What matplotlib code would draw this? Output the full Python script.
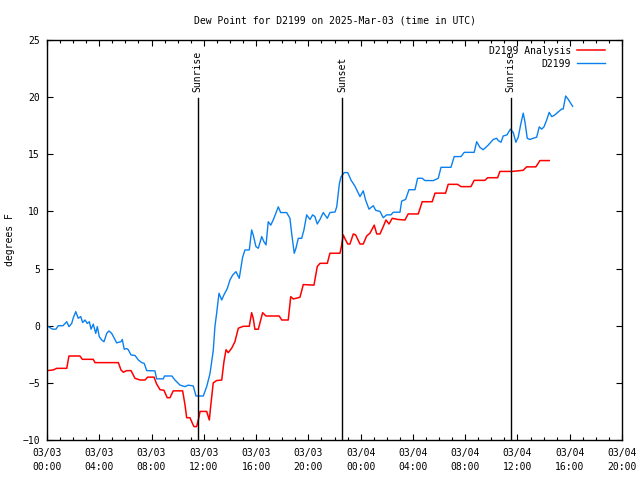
import matplotlib
matplotlib.use("Agg")
import matplotlib.pyplot as plt
import matplotlib.dates as mdates
import numpy as np
from datetime import datetime, timedelta

# ---- data (hours since 2025-03-03 00:00 UTC, dew point in F) ----
obs_hours = [0.00, 0.41, 0.69, 0.86, 1.22, 1.51, 1.68, 1.89, 2.01, 2.20, 2.39, 2.58, 2.73, 2.91,
             3.08, 3.24, 3.37, 3.54, 3.73, 3.85, 4.00, 4.19, 4.36, 4.57, 4.74, 4.95, 5.15, 5.33,
             5.66, 5.76, 5.91, 6.10, 6.22, 6.43, 6.73, 6.99, 7.25, 7.44, 7.63, 8.26, 8.39, 8.90,
             8.99, 9.56, 9.79, 10.18, 10.56, 10.81, 11.19, 11.40, 11.96, 12.22, 12.47, 12.72,
             12.85, 12.98, 13.16, 13.37, 13.54, 13.80, 14.00, 14.21, 14.46, 14.71, 14.90, 14.97,
             15.15, 15.48, 15.66, 15.78, 15.99, 16.17, 16.43, 16.60, 16.76, 16.93, 17.12, 17.31,
             17.70, 17.88, 18.34, 18.59, 18.72, 18.92, 19.05, 19.23, 19.49, 19.66, 19.87, 20.12,
             20.33, 20.50, 20.68, 20.89, 21.14, 21.45, 21.65, 22.04, 22.17, 22.29, 22.37, 22.49,
             22.75, 23.01, 23.26, 23.57, 23.95, 24.20, 24.38, 24.64, 24.97, 25.15, 25.48, 25.73,
             25.99, 26.32, 26.50, 27.01, 27.14, 27.44, 27.70, 28.16, 28.36, 28.71, 28.92, 29.56,
             29.94, 30.15, 30.91, 31.16, 31.68, 31.93, 32.69, 32.88, 33.13, 33.38, 33.76, 34.15,
             34.41, 34.53, 34.74, 34.91, 35.20, 35.46, 35.68, 35.88, 36.06, 36.24, 36.44, 36.57,
             36.75, 36.95, 37.47, 37.67, 37.85, 38.03, 38.23, 38.43, 38.62, 38.81, 39.12, 39.38,
             39.50, 39.69, 39.89, 40.22]
obs_values = [0.0, -0.3, -0.3, 0.0, 0.0, 0.35, -0.08, 0.2, 0.68, 1.23, 0.65, 0.8, 0.28, 0.5,
              0.2, 0.35, -0.3, 0.14, -0.67, -0.08, -0.96, -1.25, -1.4, -0.67, -0.46, -0.67, -1.1, -1.5,
              -1.4, -1.2, -2.06, -2.0, -2.1, -2.56, -2.6, -3.0, -3.23, -3.3, -3.93, -3.95, -4.65, -4.65,
              -4.4, -4.4, -4.75, -5.2, -5.33, -5.2, -5.27, -6.15, -6.15, -5.33, -4.2, -2.2,
              -0.08, 1.08, 2.84, 2.25, 2.7, 3.27, 4.0, 4.44, 4.73, 4.15, 5.46, 6.0,
              6.63, 6.63, 8.38, 7.94, 6.92, 6.78, 7.8, 7.35, 7.07, 9.1, 8.8, 9.25,
              10.4, 9.9, 9.9, 9.4, 8.1, 6.34, 6.78, 7.65, 7.65, 8.38, 9.7, 9.3,
              9.7, 9.55, 8.9, 9.3, 9.9, 9.4, 9.9, 9.95, 10.4, 11.6, 12.4, 13.0,
              13.4, 13.4, 12.75, 12.2, 11.3, 11.8, 11.0, 10.2, 10.5, 10.1, 10.0, 9.45,
              9.7, 9.7, 9.93, 9.93, 10.9, 11.05, 11.9, 11.9, 12.9, 12.9, 12.7, 12.7,
              12.9, 13.86, 13.86, 14.8, 14.8, 15.17, 15.17, 16.1, 15.6, 15.4, 15.8, 16.3,
              16.4, 16.2, 16.05, 16.6, 16.7, 17.2, 16.9, 16.05, 16.5, 17.56, 18.6, 17.85,
              16.4, 16.3, 16.5, 17.4, 17.2, 17.4, 17.98, 18.67, 18.3, 18.4, 18.7, 18.96,
              18.96, 20.1, 19.8, 19.2]

ana_hours = [0.00, 0.48, 0.74, 1.51, 1.68, 2.52, 2.70, 3.54, 3.67, 5.46, 5.66, 5.84, 6.10, 6.43,
             6.73, 7.12, 7.50, 7.70, 8.19, 8.39, 8.65, 8.95, 9.20, 9.41, 9.66, 10.38, 10.56, 10.69,
             10.94, 11.15, 11.25, 11.45, 11.58, 11.71, 12.22, 12.42, 12.52, 12.72, 12.98, 13.37,
             13.54, 13.70, 13.87, 14.13, 14.38, 14.64, 15.02, 15.48, 15.66, 15.78, 15.91, 16.17,
             16.50, 16.76, 17.77, 17.96, 18.46, 18.65, 18.85, 19.36, 19.61, 20.43, 20.68, 20.89,
             21.45, 21.65, 22.42, 22.55, 22.67, 22.85, 23.01, 23.18, 23.44, 23.62, 23.95, 24.20,
             24.46, 24.71, 25.04, 25.23, 25.48, 25.73, 25.94, 26.17, 26.42, 26.83, 27.39, 27.64,
             28.41, 28.71, 29.48, 29.69, 30.50, 30.70, 31.42, 31.68, 32.44, 32.69, 33.51, 33.72,
             34.48, 34.66, 35.60, 36.44, 36.70, 37.41, 37.72, 38.43]
ana_values = [-3.93, -3.87, -3.73, -3.73, -2.65, -2.65, -2.94, -2.94, -3.23, -3.23, -3.87, -4.07, -3.93, -3.93,
              -4.6, -4.75, -4.75, -4.5, -4.5, -5.1, -5.6, -5.65, -6.3, -6.3, -5.7, -5.7, -6.93, -8.05,
              -8.05, -8.6, -8.83, -8.83, -8.25, -7.5, -7.5, -8.25, -7.1, -5.0, -4.8, -4.75,
              -3.15, -2.1, -2.36, -1.97, -1.4, -0.22, -0.05, -0.05, 1.14, 0.65, -0.31, -0.31,
              1.14, 0.85, 0.85, 0.5, 0.5, 2.54, 2.34, 2.49, 3.6, 3.55, 5.17, 5.46,
              5.46, 6.34, 6.34, 7.07, 7.94, 7.5, 7.15, 7.15, 8.03, 7.94, 7.15, 7.15,
              7.85, 8.09, 8.8, 8.03, 8.03, 8.67, 9.25, 8.9, 9.4, 9.3, 9.25, 9.78,
              9.78, 10.85, 10.85, 11.6, 11.6, 12.37, 12.37, 12.17, 12.17, 12.72, 12.72, 12.95,
              12.95, 13.5, 13.5, 13.6, 13.9, 13.9, 14.45, 14.45]

events = ["Sunrise", "Sunset", "Sunrise"]
event_hours = [11.52, 22.60, 35.48]

series_labels = ["D2199 Analysis", "D2199"]
title = "Dew Point for D2199 on 2025-Mar-03 (time in UTC)"
ylabel = "degrees F"

base = datetime(2025, 3, 3, 0, 0)
def to_time(hs):
    return [base + timedelta(hours=h) for h in hs]

FONT = "DejaVu Sans Mono"
FS = 7
plt.rcParams['font.family'] = [FONT]

fig = plt.figure(figsize=(6.4, 4.8), dpi=100)
ax = fig.add_axes([47/640, 1-440/480, (622-47)/640, 400/480])

ax.plot(to_time(ana_hours), ana_values, color='#ff0000', lw=1.1, label=series_labels[0])
ax.plot(to_time(obs_hours), obs_values, color='#0a80f0', lw=1.0, label=series_labels[1])

ytop_frac = 1 - (98-40)/400
for name, h in zip(events, event_hours):
    t = base + timedelta(hours=h)
    ax.axvline(t, ymin=0, ymax=ytop_frac, color='black', lw=1.0)
    ax.text(t, 0.87, name, rotation=90, ha='center', va='bottom',
            transform=ax.get_xaxis_transform(), fontsize=FS)

ax.set_xlim(base, base + timedelta(hours=44))
ax.set_ylim(-10, 25)
ax.set_yticks(np.arange(-10, 26, 5))
ax.xaxis.set_major_locator(mdates.HourLocator(byhour=range(0, 24, 4)))
ax.xaxis.set_minor_locator(mdates.HourLocator())
ax.xaxis.set_major_formatter(mdates.DateFormatter('%m/%d\n%H:%M'))

ax.tick_params(axis='both', which='both', direction='in', top=True, right=True,
               labelsize=FS, width=0.8)
ax.tick_params(axis='both', which='major', length=4.5)
ax.tick_params(axis='both', which='minor', length=2.2)
ax.tick_params(axis='x', which='major', pad=6)
ax.tick_params(axis='y', which='major', pad=5)
for s in ax.spines.values():
    s.set_linewidth(1.0)

ax.set_title(title, fontsize=FS, pad=12)
ax.set_ylabel(ylabel, fontsize=FS)
ax.yaxis.set_label_coords(-0.055, 0.5)

leg = ax.legend(loc='upper right', bbox_to_anchor=(1 - 11/575, 1.0), frameon=False,
                markerfirst=False, fontsize=FS, handlelength=2.9, handletextpad=0.6,
                labelspacing=0.3, borderaxespad=0.4, borderpad=0.2)

fig.canvas.draw()
for tk in ax.xaxis.get_major_ticks():
    tk.label1.set_linespacing(1.45)

fig.savefig("out.png", dpi=100)
